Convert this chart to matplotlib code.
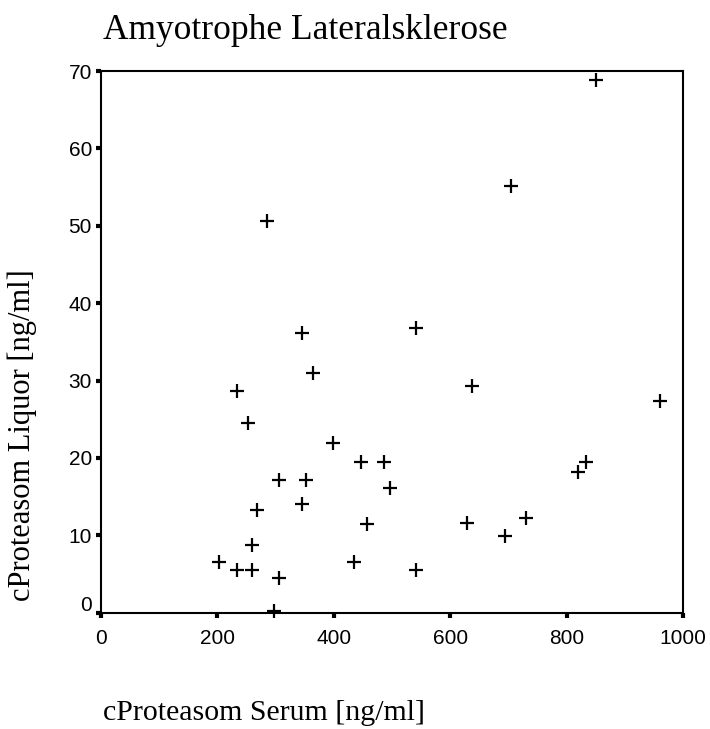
import matplotlib
matplotlib.use('Agg')
import matplotlib.pyplot as plt
import matplotlib.transforms as mtransforms

# cProteasom concentrations per patient (serum vs. CSF)
serum = [851, 704, 285, 346, 542, 364, 638, 233, 961, 253, 398, 446, 487,
         834, 820, 305, 353, 497, 346, 268, 457, 628, 731, 694, 260, 202,
         435, 233, 260, 542, 305, 298]
liquor = [68.9, 55.2, 50.6, 36.1, 36.8, 31.0, 29.3, 28.6, 27.3, 24.5, 21.9,
          19.5, 19.5, 19.5, 18.2, 17.2, 17.2, 16.1, 14.1, 13.3, 11.5, 11.6,
          12.3, 9.9, 8.7, 6.6, 6.6, 5.5, 5.5, 5.5, 4.5, 0.2]

xticks = [0, 200, 400, 600, 800, 1000]
yticks = [0, 10, 20, 30, 40, 50, 60, 70]

title = 'Amyotrophe Lateralsklerose'
xlabel = 'cProteasom Serum [ng/ml]'
ylabel = 'cProteasom Liquor [ng/ml]'

fig = plt.figure(figsize=(7.1, 7.29), dpi=100)
ax = fig.add_axes([0.1423, 0.1595, 0.8197, 0.7431])

ax.plot(serum, liquor, linestyle='none', marker='+', markersize=10,
        markeredgewidth=1.6, color='black', clip_on=False)

ax.set_xlim(0, 1000)
ax.set_ylim(0, 70)
ax.set_xticks(xticks)
ax.set_yticks(yticks)
ax.set_xticklabels([str(t) for t in xticks], family='Liberation Sans', fontsize=15)
ax.set_yticklabels([str(t) for t in yticks], family='Liberation Sans', fontsize=15)
ax.tick_params(axis='both', direction='out', length=3.5, width=3, color='black')
ax.tick_params(axis='x', pad=8)
ax.tick_params(axis='y', pad=3)

for s in ['top', 'bottom', 'right', 'left']:
    ax.spines[s].set_linewidth(1.5)

# lift the "0" label on the y axis a little off the x axis
lab0 = ax.get_yticklabels()[0]
lab0.set_transform(lab0.get_transform() + mtransforms.ScaledTranslation(0, 9 / 100, fig.dpi_scale_trans))

fig.text(0.145, 0.958, title, family='Liberation Serif', fontsize=25.5,
         ha='left', va='center')
fig.text(0.145, 0.022, xlabel, family='Liberation Serif', fontsize=21.5,
         ha='left', va='center')
fig.text(0.031, 0.403, ylabel, family='Liberation Serif', fontsize=22,
         ha='center', va='center', rotation=90)

fig.savefig('out.png', dpi=100)
